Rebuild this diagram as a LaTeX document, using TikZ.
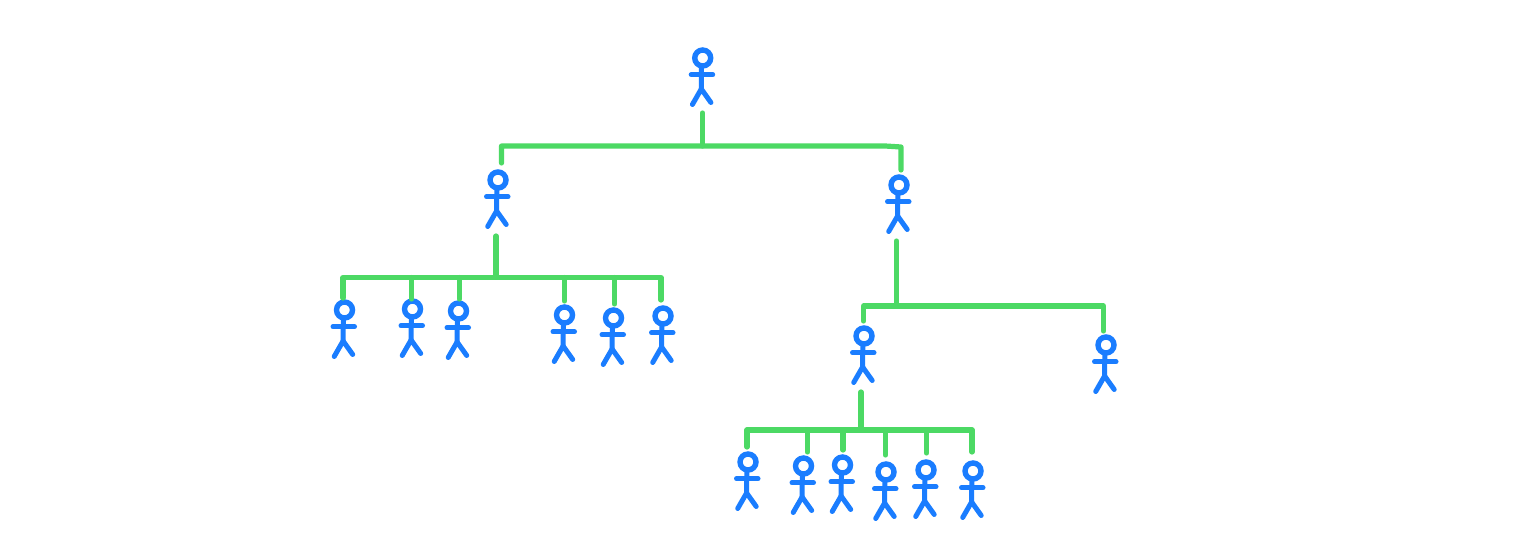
\documentclass[tikz,border=0pt]{standalone}
\definecolor{figblue}{HTML}{1A7DFF}
\definecolor{linkgreen}{HTML}{4CD964}
\tikzset{
  x=0.5pt,y=-0.5pt,
  headring/.style={circle,draw=figblue,line width=2.7pt,minimum size=8pt,inner sep=0pt,outer sep=0pt},
  limb/.style={draw=figblue,line width=2.5pt,line cap=round,line join=round},
  link/.style={draw=linkgreen,line width=2.6pt,line cap=round,line join=round},
  person/.pic={
    \node[headring] (-head) at (0,0) {};
    \coordinate (-neck) at (-1.2,8);
    \coordinate (-hip) at (-1.4,31);
    \coordinate (-armL) at (-11.5,16.7);
    \coordinate (-armR) at (10,16.7);
    \coordinate (-footL) at (-10.3,46.5);
    \coordinate (-footR) at (8.2,44.5);
    \draw[limb] (-neck) -- (-hip);
    \draw[limb] (-armL) -- (-armR);
    \draw[limb] (-footL) -- (-hip) -- (-footR);
  }
}
\begin{document}
\begin{tikzpicture}
\useasboundingbox (0,0) rectangle (1536,555);
\fill[white] (0,0) rectangle (1536,555);
% people
\pic (root) at (702.7,58) {person};
\pic (l) at (498,180) {person};
\pic (r) at (899,185) {person};
\pic (la) at (344.5,310) {person};
\pic (lb) at (412.5,309) {person};
\pic (lc) at (458.5,311) {person};
\pic (ld) at (564.5,315) {person};
\pic (le) at (613.5,318) {person};
\pic (lf) at (663,316) {person};
\pic (m) at (864,336) {person};
\pic (n) at (1106,345) {person};
\pic (ma) at (748,462) {person};
\pic (mb) at (803.5,466) {person};
\pic (mc) at (842.5,465) {person};
\pic (md) at (886,472) {person};
\pic (me) at (926,470) {person};
\pic (mf) at (973,471) {person};
% root family
\coordinate (s0) at (702.5,113);
\coordinate (j0) at (702.5,146);
\coordinate (b0l) at (501.5,146);
\coordinate (b0m) at (885,146);
\coordinate (b0r) at (901,147);
\coordinate (d0l) at (501.5,163);
\coordinate (d0r) at (901,170);
\draw[link] (s0) -- (j0);
\draw[link] (d0l) -- (b0l) -- (b0m) -- (b0r) -- (d0r);
% left family
\coordinate (s1) at (496,236);
\coordinate (j1) at (496,277);
\coordinate (b1l) at (343,277.5);
\coordinate (b1r) at (661,277.5);
\coordinate (d1a) at (343,298);
\coordinate (d1f) at (661,300);
\draw[link] (s1) -- (j1);
\draw[link] (d1a) -- (b1l) -- (b1r) -- (d1f);
\foreach \bx/\by/\nm in {411.5/299/b,459.5/299/c,564.5/301/d,614.5/304/e}{
  \coordinate (t1\nm) at (\bx,277.5);
  \coordinate (d1\nm) at (\bx,\by);
  \draw[link] (t1\nm) -- (d1\nm);
}
% right family
\coordinate (s2) at (896.5,241);
\coordinate (j2) at (896.5,305);
\coordinate (b2l) at (863.5,306);
\coordinate (b2r) at (1103.5,306);
\coordinate (d2l) at (863.5,321);
\coordinate (d2r) at (1103.5,331);
\draw[link] (s2) -- (j2);
\draw[link] (d2l) -- (b2l) -- (b2r) -- (d2r);
% lower family
\coordinate (s3) at (861,392);
\coordinate (j3) at (861,430);
\coordinate (b3l) at (747,430);
\coordinate (b3r) at (972,430);
\coordinate (d3a) at (747,447);
\coordinate (d3f) at (972,452);
\draw[link] (s3) -- (j3);
\draw[link] (d3a) -- (b3l) -- (b3r) -- (d3f);
\foreach \bx/\by/\nm in {807.5/452/b,843/450/c,885.5/455/d,926.5/453/e}{
  \coordinate (t3\nm) at (\bx,430);
  \coordinate (d3\nm) at (\bx,\by);
  \draw[link] (t3\nm) -- (d3\nm);
}
\end{tikzpicture}
\end{document}
